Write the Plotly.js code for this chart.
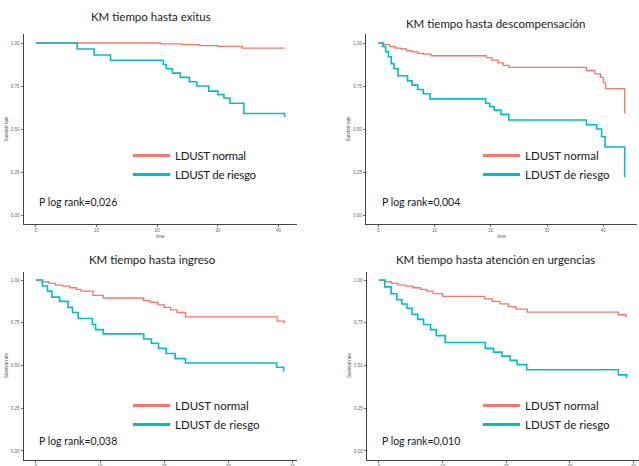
<!DOCTYPE html>
<html>
<head>
<meta charset="utf-8">
<script src="https://cdn.plot.ly/plotly-3.0.1.min.js"></script>
<style>
html,body{margin:0;padding:0;background:#fff}
#chart{width:639px;height:466px}
#chart text.legendtext{letter-spacing:-0.25px}
</style>
</head>
<body>
<div id="chart"></div>
<script>
// ---------- DATA ----------
const titles = ["KM tiempo hasta exitus", "KM tiempo hasta descompensación", "KM tiempo hasta ingreso", "KM tiempo hasta atención en urgencias"];
const pvalues = ["P log rank=0,026", "P log rank=0,004", "P log rank=0,038", "P log rank=0,010"];
const groupNames = ["LDUST normal", "LDUST de riesgo"];
const yTickVals = [0, 0.25, 0.5, 0.75, 1];
const yTickText = ["0.00", "0.25", "0.50", "0.75", "1.00"];
const xTickVals = [0, 10, 20, 30, 40];

// Panel 1: exitus
const exitusNormalTime = [0, 20.5, 24, 27, 30, 34, 41];
const exitusNormalSurv = [1, 0.995, 0.99, 0.985, 0.98, 0.97, 0.97];
const exitusRiesgoTime = [0, 6.8, 9.6, 12.3, 21.0, 21.5, 22.5, 23.8, 25.3, 26.5, 28.5, 30.0, 31.0, 32.0, 34.3, 41.0];
const exitusRiesgoSurv = [1, 0.965, 0.93, 0.90, 0.875, 0.85, 0.825, 0.80, 0.775, 0.75, 0.72, 0.70, 0.68, 0.65, 0.59, 0.57];

// Panel 2: descompensación
const descNormalTime = [0, 1, 2, 3, 4, 5, 6, 7, 8, 9.4, 19.2, 20.2, 21.3, 22.2, 23.2, 37.0, 38.5, 39.5, 40.0, 40.4, 43.8];
const descNormalSurv = [1, 0.99, 0.98, 0.97, 0.965, 0.955, 0.948, 0.94, 0.935, 0.926, 0.915, 0.90, 0.885, 0.87, 0.858, 0.84, 0.82, 0.80, 0.77, 0.735, 0.59];
const descRiesgoTime = [0, 0.8, 1.3, 1.8, 2.3, 2.8, 3.5, 5.2, 6.0, 7.0, 8.0, 9.2, 19.1, 19.8, 20.6, 21.8, 23.2, 37.0, 38.8, 39.7, 40.3, 43.8];
const descRiesgoSurv = [1, 0.98, 0.95, 0.92, 0.88, 0.85, 0.81, 0.78, 0.755, 0.73, 0.705, 0.675, 0.65, 0.63, 0.61, 0.585, 0.552, 0.525, 0.50, 0.455, 0.395, 0.22];

// Panel 3: ingreso
const ingNormalTime = [0, 1.0, 2.0, 3.0, 4.2, 5.3, 6.3, 7.0, 8.9, 10.5, 16.8, 17.8, 19.0, 20.0, 21.0, 22.0, 23.3, 37.6, 38.7];
const ingNormalSurv = [1, 0.99, 0.98, 0.97, 0.965, 0.955, 0.945, 0.935, 0.91, 0.895, 0.88, 0.87, 0.855, 0.84, 0.825, 0.81, 0.785, 0.76, 0.745];
const ingRiesgoTime = [0, 1.0, 1.8, 2.5, 3.7, 5.0, 5.7, 6.6, 8.8, 9.3, 10.5, 16.8, 18.0, 19.1, 20.3, 21.7, 23.3, 37.5, 38.6];
const ingRiesgoSurv = [1, 0.965, 0.935, 0.90, 0.875, 0.84, 0.81, 0.775, 0.74, 0.71, 0.685, 0.655, 0.63, 0.60, 0.57, 0.54, 0.515, 0.49, 0.465];

// Panel 4: atención en urgencias
const urgNormalTime = [0, 1.0, 2.0, 3.0, 4.2, 5.3, 6.5, 7.5, 8.5, 10.0, 16.6, 17.8, 19.0, 20.3, 21.5, 23.3, 37.6, 38.8];
const urgNormalSurv = [1, 0.99, 0.98, 0.97, 0.965, 0.955, 0.945, 0.935, 0.92, 0.905, 0.89, 0.875, 0.86, 0.845, 0.83, 0.812, 0.797, 0.78];
const urgRiesgoTime = [0, 0.9, 1.9, 2.8, 3.6, 4.4, 5.2, 6.1, 7.0, 8.1, 9.0, 10.4, 16.7, 18.0, 19.3, 20.6, 21.7, 23.2, 37.6, 38.9];
const urgRiesgoSurv = [1, 0.96, 0.92, 0.885, 0.86, 0.835, 0.80, 0.77, 0.74, 0.71, 0.675, 0.635, 0.60, 0.578, 0.555, 0.53, 0.505, 0.475, 0.445, 0.425];

// ---------- LAYOUT ----------
const W = 639, H = 466;
const px = v => v / W;
const py = v => 1 - v / H;
const RED = "#F8766D", TEAL = "#00BFC4";
const FONT = "Lato, sans-serif";

const series = [
  [exitusNormalTime, exitusNormalSurv, exitusRiesgoTime, exitusRiesgoSurv],
  [descNormalTime, descNormalSurv, descRiesgoTime, descRiesgoSurv],
  [ingNormalTime, ingNormalSurv, ingRiesgoTime, ingRiesgoSurv],
  [urgNormalTime, urgNormalSurv, urgRiesgoTime, urgRiesgoSurv]
];

// pixel geometry of each panel: [left, right, top, bottom] of plot area
const boxes = [
  [23.5, 297, 34.4, 223.6],
  [366, 637, 34.4, 223.6],
  [23.5, 296.7, 271.5, 459.5],
  [366.6, 639, 271.5, 459.5]
];
const titlePos = [[151, 17], [495, 23], [152, 259], [495, 259]];
const legendPos = [[128, 141], [478, 141], [128, 391], [478, 391]];
const pPos = [[37, 202], [380, 202], [37, 441], [380, 441]];

const traces = [];
const layout = {
  width: W, height: H,
  margin: {l: 0, r: 0, t: 0, b: 0},
  paper_bgcolor: "#fff", plot_bgcolor: "#fff",
  showlegend: true,
  annotations: [],
  font: {family: FONT}
};

series.forEach((s, i) => {
  const k = i + 1;
  const xa = "xaxis" + (k === 1 ? "" : k), ya = "yaxis" + (k === 1 ? "" : k);
  const xr = "x" + (k === 1 ? "" : k), yr = "y" + (k === 1 ? "" : k);
  const lg = "legend" + (k === 1 ? "" : k);
  const maxT = Math.max(s[0][s[0].length - 1], s[2][s[2].length - 1]);
  const b = boxes[i];
  const bottomRow = i >= 2;
  layout[xa] = {
    domain: [px(b[0]), px(b[1])], anchor: yr,
    range: [-0.05 * maxT, 1.05 * maxT],
    tickvals: xTickVals, showgrid: false, zeroline: false,
    showline: true, linecolor: "#444", linewidth: 1,
    ticks: "outside", ticklen: 2, tickwidth: 0.8, tickcolor: "#444",
    tickfont: {size: 4.5, color: "#666", family: "Liberation Sans"},
    title: bottomRow ? {text: ""} : {text: "time", font: {size: 4.5, color: "#555", family: "Liberation Sans"}, standoff: 2},
    fixedrange: true
  };
  layout[ya] = {
    domain: [py(b[3]), py(b[2])], anchor: xr,
    range: [-0.05, 1.05],
    tickvals: yTickVals, ticktext: yTickText, showgrid: false, zeroline: false,
    showline: true, linecolor: "#444", linewidth: 1,
    ticks: "outside", ticklen: 2, tickwidth: 0.8, tickcolor: "#444",
    tickfont: {size: 4.5, color: "#666", family: "Liberation Sans"},
    title: {text: "Survival rate", font: {size: 4.5, color: "#555", family: "Liberation Sans"}, standoff: 2},
    fixedrange: true
  };
  // curves
  traces.push({x: s[0], y: s[1], xaxis: xr, yaxis: yr, type: "scatter", mode: "lines",
    line: {shape: "hv", color: RED, width: 1.3}, showlegend: false, hoverinfo: "skip"});
  traces.push({x: s[2], y: s[3], xaxis: xr, yaxis: yr, type: "scatter", mode: "lines",
    line: {shape: "hv", color: TEAL, width: 1.6}, showlegend: false, hoverinfo: "skip"});
  // legend entries
  traces.push({x: [null], y: [null], xaxis: xr, yaxis: yr, type: "scatter", mode: "lines",
    name: groupNames[0], line: {color: RED, width: 3}, legend: lg, showlegend: true});
  traces.push({x: [null], y: [null], xaxis: xr, yaxis: yr, type: "scatter", mode: "lines",
    name: groupNames[1], line: {color: TEAL, width: 3}, legend: lg, showlegend: true});
  layout[lg] = {
    x: px(legendPos[i][0]), y: py(legendPos[i][1]), xanchor: "left", yanchor: "top",
    bgcolor: "rgba(0,0,0,0)", borderwidth: 0, itemwidth: 37,
    font: {size: 11.5, color: "#1a1a1a", family: FONT},
    traceorder: "normal"
  };
  // title and p-value
  layout.annotations.push({text: titles[i], xref: "paper", yref: "paper",
    x: px(titlePos[i][0]), y: py(titlePos[i][1]), xanchor: "center", yanchor: "middle",
    showarrow: false, font: {size: 11.5, color: "#1a1a1a", family: FONT}});
  layout.annotations.push({text: pvalues[i], xref: "paper", yref: "paper",
    x: px(pPos[i][0]), y: py(pPos[i][1]), xanchor: "left", yanchor: "middle",
    showarrow: false, font: {size: 10.5, color: "#1a1a1a", family: FONT}});
});

Plotly.newPlot("chart", traces, layout, {staticPlot: true, displayModeBar: false});
</script>
</body>
</html>
